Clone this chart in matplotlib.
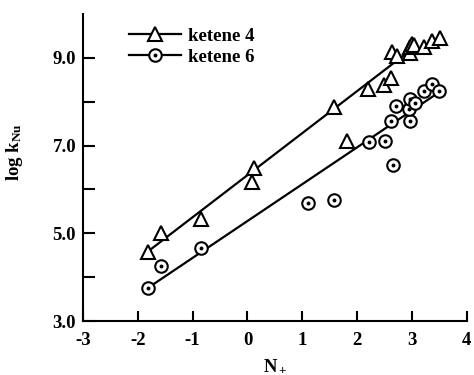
import numpy as np
import matplotlib
matplotlib.use("Agg")
import matplotlib.pyplot as plt
from matplotlib.legend_handler import HandlerTuple

plt.rcParams['font.family'] = ['Liberation Serif', 'DejaVu Serif']
plt.rcParams['font.weight'] = 'bold'
plt.rcParams['mathtext.fontset'] = 'custom'
plt.rcParams['mathtext.rm'] = 'Liberation Serif:bold'
plt.rcParams['mathtext.bf'] = 'Liberation Serif:bold'
plt.rcParams['mathtext.it'] = 'Liberation Serif:bold'

# ketene 4 (triangles)
n4 = [-1.82, -1.58, -0.85, 0.09, 0.11, 1.58, 1.81, 2.20, 2.49, 2.62,
      2.64, 2.73, 2.96, 2.97, 3.00, 3.03, 3.21, 3.37, 3.51]
logk4 = [4.58, 5.01, 5.32, 6.16, 6.48, 7.87, 7.10, 8.28, 8.38, 8.53,
         9.14, 9.03, 9.10, 9.25, 9.31, 9.28, 9.25, 9.39, 9.45]
# ketene 6 (dotted circles)
n6 = [-1.82, -1.58, -0.85, 1.10, 1.58, 2.21, 2.50, 2.65, 2.62, 2.71,
      2.97, 2.94, 2.97, 3.06, 3.22, 3.36, 3.50]
logk6 = [3.75, 4.25, 4.66, 5.68, 5.76, 7.09, 7.11, 6.56, 7.55, 7.89,
         7.55, 7.83, 8.06, 7.96, 8.25, 8.40, 8.25]

# regression lines, end points
fit4_x = [-1.82, 3.00]
fit4_y = [4.58, 9.20]
fit6_x = [-1.82, 3.50]
fit6_y = [3.75, 8.22]

xticks = [-3, -2, -1, 0, 1, 2, 3, 4]
yticks = [3, 4, 5, 6, 7, 8, 9]
ylabels = ["3.0", "", "5.0", "", "7.0", "", "9.0"]

fs = 13.5

fig = plt.figure(figsize=(4.74, 3.75), dpi=100)
ax = fig.add_axes([0.175, 0.144, 0.81, 0.819])

ax.plot(fit4_x, fit4_y, color="black", lw=1.6, zorder=2)
ax.plot(fit6_x, fit6_y, color="black", lw=1.6, zorder=2)

ax.plot(n4, logk4, ls="none", marker="^", ms=9.5, mfc="white", mec="black", mew=1.5, zorder=3)
ax.plot(n6, logk6, ls="none", marker="o", ms=9, mfc="white", mec="black", mew=1.5, zorder=3)
ax.plot(n6, logk6, ls="none", marker="o", ms=1.8, mfc="black", mec="black", zorder=4)

# legend handles: line with marker
h4 = plt.Line2D([], [], color="black", lw=1.6, marker="^", ms=9.5, mfc="white", mec="black", mew=1.5)
h6 = plt.Line2D([], [], color="black", lw=1.6, marker="o", ms=9, mfc="white", mec="black", mew=1.5)
h6dot = plt.Line2D([], [], ls="none", marker="o", ms=1.8, mfc="black", mec="black")
ax.legend([h4, (h6, h6dot)], ["ketene 4", "ketene 6"], loc="upper left",
          bbox_to_anchor=(0.075, 1.01), frameon=False,
          prop={"size": fs, "weight": "bold"},
          handlelength=2.8, handletextpad=0.35, labelspacing=0.2,
          handler_map={tuple: HandlerTuple(ndivide=1, pad=0)})

ax.set_xlim(-3, 4)
ax.set_ylim(3, 10)
ax.set_xticks(xticks)
ax.set_xticklabels([str(t) for t in xticks])
ax.set_yticks(yticks)
ax.set_yticklabels(ylabels)

for s in ["top", "right"]:
    ax.spines[s].set_visible(False)
for s in ["left", "bottom"]:
    ax.spines[s].set_linewidth(1.5)

ax.tick_params(axis="x", direction="in", length=7.5, width=1.5, pad=8, labelsize=fs)
ax.tick_params(axis="y", direction="in", length=8.5, width=1.5, pad=5, labelsize=fs)

ax.set_xlabel(r"N$_+$", fontsize=fs, fontweight="bold", labelpad=6)
ax.set_ylabel(r"log k$_{\mathrm{Nu}}$", fontsize=fs, fontweight="bold")
ax.yaxis.set_label_coords(-0.15, 0.55)

fig.savefig("out.png", dpi=100)
